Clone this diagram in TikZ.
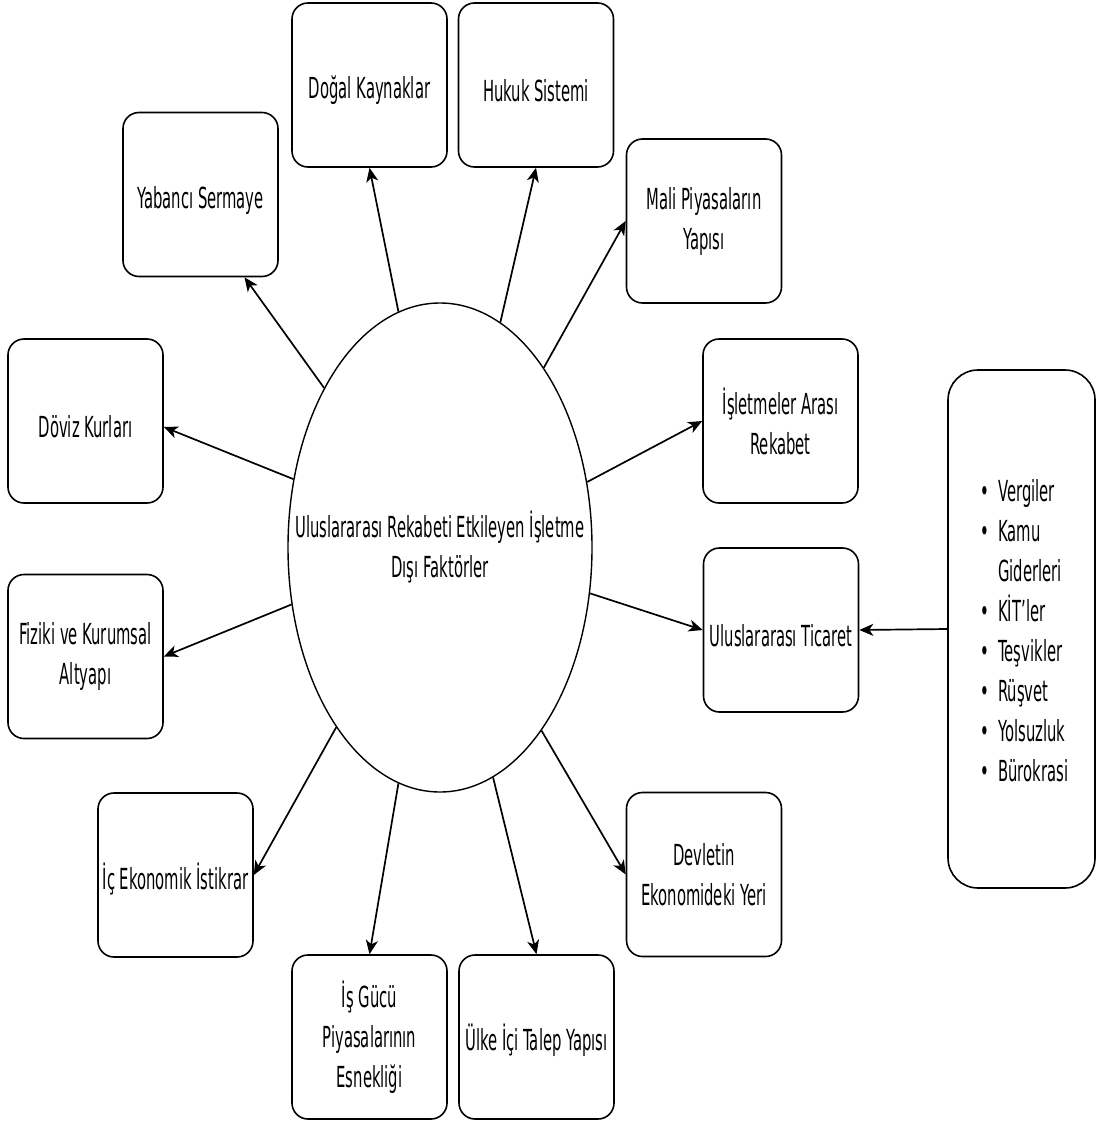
\documentclass[tikz,border=0pt]{standalone}
\usepackage{fontspec}
\setmainfont{DejaVu Sans}[FakeStretch=0.51]
\usetikzlibrary{arrows.meta,shapes.geometric}
\begin{document}
\begin{tikzpicture}[x=1pt,y=-1pt,
  labelfont/.style={font=\fontsize{29}{40}\selectfont},
  factor/.style={draw, rounded corners=16pt, line width=1.6pt,
    minimum width=155pt, minimum height=164pt, align=center,
    inner sep=0pt, labelfont,
    execute at begin node={\rule{0pt}{34pt}}},
  hub/.style={draw, ellipse, line width=1.4pt,
    minimum width=304pt, minimum height=489pt, inner sep=0pt},
  link/.style={-{Stealth[length=14pt,width=12pt,inset=4pt]}, line width=1.7pt},
]
\useasboundingbox (0,0) rectangle (1097,1121);

% central factor
\node[hub] (c) at (440,547.5) {};
\node[labelfont, align=center] (ct) at (c) {Uluslararası Rekabeti Etkileyen İşletme\\Dışı Faktörler};

% surrounding factors
\node[factor] (dk) at (369.5,85)   {Doğal Kaynaklar};
\node[factor] (hs) at (536,85)     {Hukuk Sistemi};
\node[factor] (ys) at (200.5,194.5){Yabancı Sermaye};
\node[factor] (mp) at (704,221)    {Mali Piyasaların\\Yapısı};
\node[factor] (dv) at (85.5,421)   {Döviz Kurları};
\node[factor] (ir) at (780.5,421)  {İşletmeler Arası\\Rekabet};
\node[factor] (ut) at (781,630)    {Uluslararası Ticaret};
\node[factor] (fa) at (85.5,656.5) {Fiziki ve Kurumsal\\Altyapı};
\node[factor] (ie) at (175.5,875)  {İç Ekonomik İstikrar};
\node[factor] (dy) at (704,874.5)  {Devletin\\Ekonomideki Yeri};
\node[factor] (ig) at (369.5,1037) {İş Gücü\\Piyasalarının\\Esnekliği};
\node[factor] (ul) at (536.5,1037) {Ülke İçi Talep Yapısı};

% public sector list
\node[draw, rounded corners=30pt, line width=1.6pt,
      minimum width=147pt, minimum height=518pt] (rb) at (1021.5,629) {};
\node[labelfont, anchor=west] (lst) at (977,633) {%
  \begin{tabular}{@{}l@{\hspace{9pt}}l@{}}
  \textbullet & Vergiler\\
  \textbullet & Kamu\\
              & Giderleri\\
  \textbullet & KİT'ler\\
  \textbullet & Teşvikler\\
  \textbullet & Rüşvet\\
  \textbullet & Yolsuzluk\\
  \textbullet & Bürokrasi
  \end{tabular}};

% connectors
\draw[link] (c.100.4) -- (dk.south);
\draw[link] (c.75.6)  -- (hs.south);
\draw[link] (c.126.3) -- ([xshift=44pt]ys.south);
\draw[link] (c.60.3)  -- (mp.west);
\draw[link] (c.155.9) -- ([yshift=-6pt]dv.east);
\draw[link] (c.24.9)  -- (ir.west);
\draw[link] (c.-17.2) -- (ut.west);
\draw[link] (c.201.4) -- (fa.east);
\draw[link] (c.240.2) -- (ie.east);
\draw[link] (c.260.2) -- (ig.north);
\draw[link] (c.283.5) -- (ul.north);
\draw[link] (c.299.6) -- (dy.west);
\draw[link] (rb.west) -- (ut.east);
\end{tikzpicture}
\end{document}
